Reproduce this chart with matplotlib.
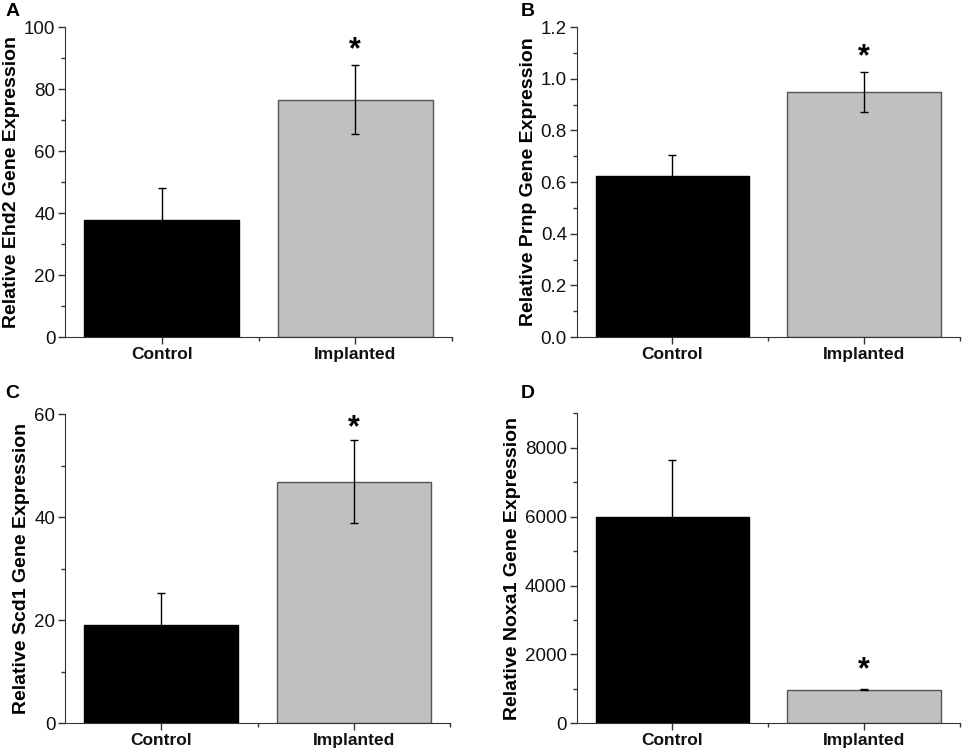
import matplotlib
matplotlib.use("Agg")
import matplotlib.pyplot as plt
from matplotlib.ticker import FixedLocator

plt.rcParams['font.family'] = ['Liberation Sans', 'DejaVu Sans']

groups = ["Control", "Implanted"]
colors = ["#000000", "#c0c0c0"]

letters = ["A", "B", "C", "D"]
ylabels = ["Relative Ehd2 Gene Expression", "Relative Prnp Gene Expression",
           "Relative Scd1 Gene Expression", "Relative Noxa1 Gene Expression"]
means = [[37.8, 76.6], [0.623, 0.948], [19.0, 46.9], [6000, 975]]
errors = [[10.2, 11.1], [0.083, 0.078], [6.2, 8.0], [1650, 20]]
star_y = [92.4, 1.082, 57.2, 1545]
ytop = [100, 1.2, 60, 9000]
major_steps = [20, 0.2, 20, 2000]
minor_steps = [10, 0.1, 10, 1000]
tick_fmt = ["{:.0f}", "{:.1f}", "{:.0f}", "{:.0f}"]

boxes = [[0.0674, 0.553, 0.401, 0.411],
         [0.5976, 0.553, 0.397, 0.411],
         [0.0674, 0.0407, 0.399, 0.410],
         [0.5976, 0.0407, 0.397, 0.411]]
letter_pos = [(0.013, 0.985), (0.547, 0.985), (0.013, 0.478), (0.547, 0.478)]

fig = plt.figure(figsize=(9.65, 7.54), dpi=100)
x = [1, 2]

for i in range(4):
    ax = fig.add_axes(boxes[i])
    ax.bar(x, means[i], width=0.8, color=colors, edgecolor=["#000000", "#555555"],
           linewidth=1.0, zorder=2)
    ax.errorbar(x, means[i], yerr=errors[i], fmt="none", ecolor="#000000",
                elinewidth=1.0, capsize=3, capthick=1.0, zorder=3)
    ax.text(2, star_y[i], "*", ha="center", va="center", fontsize=22,
            fontweight="bold")

    n_major = int(round(ytop[i] / major_steps[i]))
    n_minor = int(round(ytop[i] / minor_steps[i]))
    ticks = [k * major_steps[i] for k in range(n_major + 1)]
    ax.set_yticks(ticks)
    ax.set_yticklabels([tick_fmt[i].format(t) for t in ticks], fontsize=13.5)
    ax.yaxis.set_minor_locator(FixedLocator([k * minor_steps[i] for k in range(n_minor + 1)]))
    ax.set_xticks(x)
    ax.set_xticklabels(groups, fontsize=12.5, fontweight="bold")
    ax.xaxis.set_minor_locator(FixedLocator([1.5, 2.5]))
    ax.set_xlim(0.5, 2.5)
    ax.set_ylim(0, ytop[i])
    ax.set_ylabel(ylabels[i], fontsize=14, fontweight="bold", labelpad=3)

    for s in ["top", "right"]:
        ax.spines[s].set_visible(False)
    for s in ["left", "bottom"]:
        ax.spines[s].set_color("#333333")
    ax.tick_params(which="major", length=5, width=1.0, color="#333333",
                   labelcolor="#111111", pad=2)
    ax.tick_params(which="minor", length=3, width=1.0, color="#333333")

    fig.text(letter_pos[i][0], letter_pos[i][1], letters[i], fontsize=14,
             fontweight="bold", ha="center", va="center")

fig.savefig("out.png", dpi=100)
